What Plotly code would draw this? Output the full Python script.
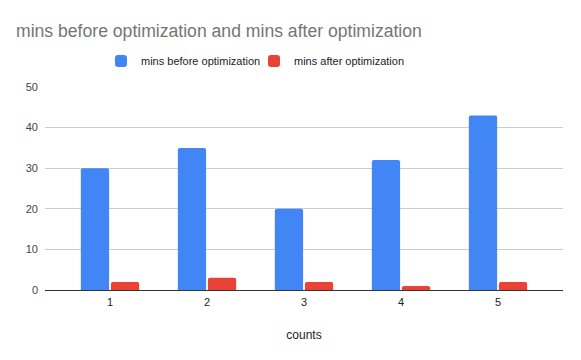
import plotly.graph_objects as go

categories = ["1", "2", "3", "4", "5"]
before = [30, 35, 20, 32, 43]
after = [2, 3, 2, 1, 2]
series_names = ["mins before optimization", "mins after optimization"]
title_text = "mins before optimization and mins after optimization"
x_title = "counts"

fig = go.Figure()
fig.add_trace(go.Bar(x=categories, y=before, name=series_names[0], marker_color="#4285F4", marker_line_width=0))
fig.add_trace(go.Bar(x=categories, y=after, name=series_names[1], marker_color="#EA4335", marker_line_width=0))

fig.update_layout(
    width=581, height=360,
    margin=dict(l=45, r=18, t=87, b=70, autoexpand=False),
    paper_bgcolor="white", plot_bgcolor="white",
    font=dict(family="Arial, 'Liberation Sans', sans-serif", color="#222222"),
    barmode="group", bargap=0.38, bargroupgap=0.06, barcornerradius=2,
    title=dict(text=title_text, x=16/581, xanchor="left", xref="container",
               y=1 - 31/360, yanchor="middle", yref="container",
               font=dict(size=17.6, color="#757575")),
    legend=dict(orientation="h", x=101/581, xanchor="left", xref="container",
                y=1 - 61/360, yanchor="middle", yref="container",
                font=dict(size=11, color="#222222"), itemwidth=30, entrywidth=108),
    xaxis=dict(range=[-0.67, 4.67], showgrid=False, showline=True, linecolor="#333333", linewidth=1,
               ticks="", automargin=False, ticklabelstandoff=2, tickfont=dict(size=11, color="#222222"),
               title=dict(text=x_title, font=dict(size=12, color="#222222"), standoff=23)),
    yaxis=dict(range=[0, 50], dtick=10, showgrid=True, gridcolor="#CCCCCC", gridwidth=1,
               zeroline=False, showline=False, ticks="", ticklabelstandoff=6, automargin=False,
               tickfont=dict(size=11, color="#444444")),
)

fig.write_html("out.html", config={"displayModeBar": False},
               post_script="document.body.style.margin='0';document.body.style.overflow='hidden';")
